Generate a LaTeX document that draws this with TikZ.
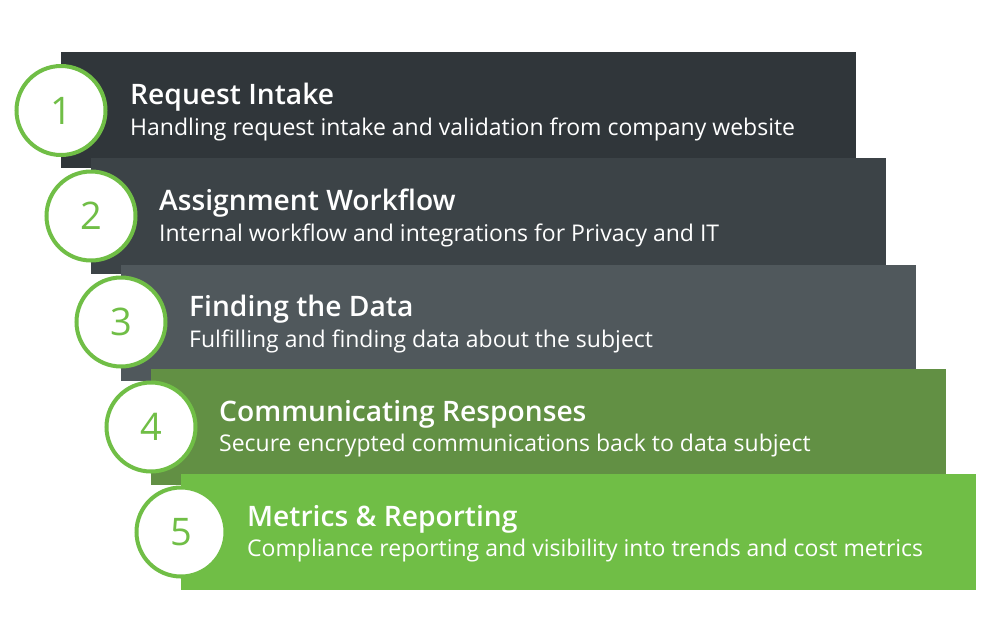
\documentclass[tikz,border=0pt]{standalone}
\usepackage{fontspec}
\setmainfont{Open Sans}[BoldFont={* Semibold}]
\definecolor{barA}{RGB}{48,54,58}
\definecolor{barB}{RGB}{60,67,71}
\definecolor{barC}{RGB}{80,88,92}
\definecolor{barD}{RGB}{98,144,68}
\definecolor{barE}{RGB}{112,190,70}
\definecolor{ring}{RGB}{112,190,70}
\tikzset{
  stepbar/.style={rectangle, draw=none, inner sep=0pt, outer sep=0pt, anchor=north west,
    minimum width=795pt, minimum height=116pt},
  numcirc/.style={circle, draw=ring, fill=white, line width=4pt, minimum size=89pt,
    inner sep=0pt, text=ring, font=\fontsize{38}{40}\selectfont},
  steptitle/.style={anchor=base west, inner sep=0pt, text=white,
    font=\fontsize{28.2}{30}\selectfont\bfseries},
  stepsub/.style={anchor=base west, inner sep=0pt, text=white,
    font=\fontsize{23}{26}\selectfont},
}
\begin{document}
\begin{tikzpicture}[x=1pt,y=-1pt]
\useasboundingbox (0,0) rectangle (1000,638);
% step 1
\node[stepbar, fill=barA] (b1) at (61,52) {};
\node[numcirc] (c1) at (61,110.5) {1};
\node[steptitle] (t1) at (130,104.5) {Request Intake};
\node[stepsub] (s1) at (130,135) {Handling request intake and validation from company website};
% step 2
\node[stepbar, fill=barB] (b2) at (91,158) {};
\node[numcirc] (c2) at (91,216) {2};
\node[steptitle] (t2) at (159,210.5) {Assignment Workflow};
\node[stepsub] (s2) at (159,241) {Internal workflow and integrations for Privacy and IT};
% step 3
\node[stepbar, fill=barC] (b3) at (121,265) {};
\node[numcirc] (c3) at (121,322) {3};
\node[steptitle] (t3) at (189,316.5) {Finding the Data};
\node[stepsub] (s3) at (189,347) {Fulfilling and finding data about the subject};
% step 4
\node[stepbar, fill=barD] (b4) at (151,369) {};
\node[numcirc] (c4) at (151,427) {4};
\node[steptitle] (t4) at (219,421) {Communicating Responses};
\node[stepsub] (s4) at (219,451) {Secure encrypted communications back to data subject};
% step 5
\node[stepbar, fill=barE] (b5) at (181,474) {};
\node[numcirc] (c5) at (181,532) {5};
\node[steptitle] (t5) at (247,526) {Metrics \& Reporting};
\node[stepsub] (s5) at (247,556) {Compliance reporting and visibility into trends and cost metrics};
\end{tikzpicture}
\end{document}
